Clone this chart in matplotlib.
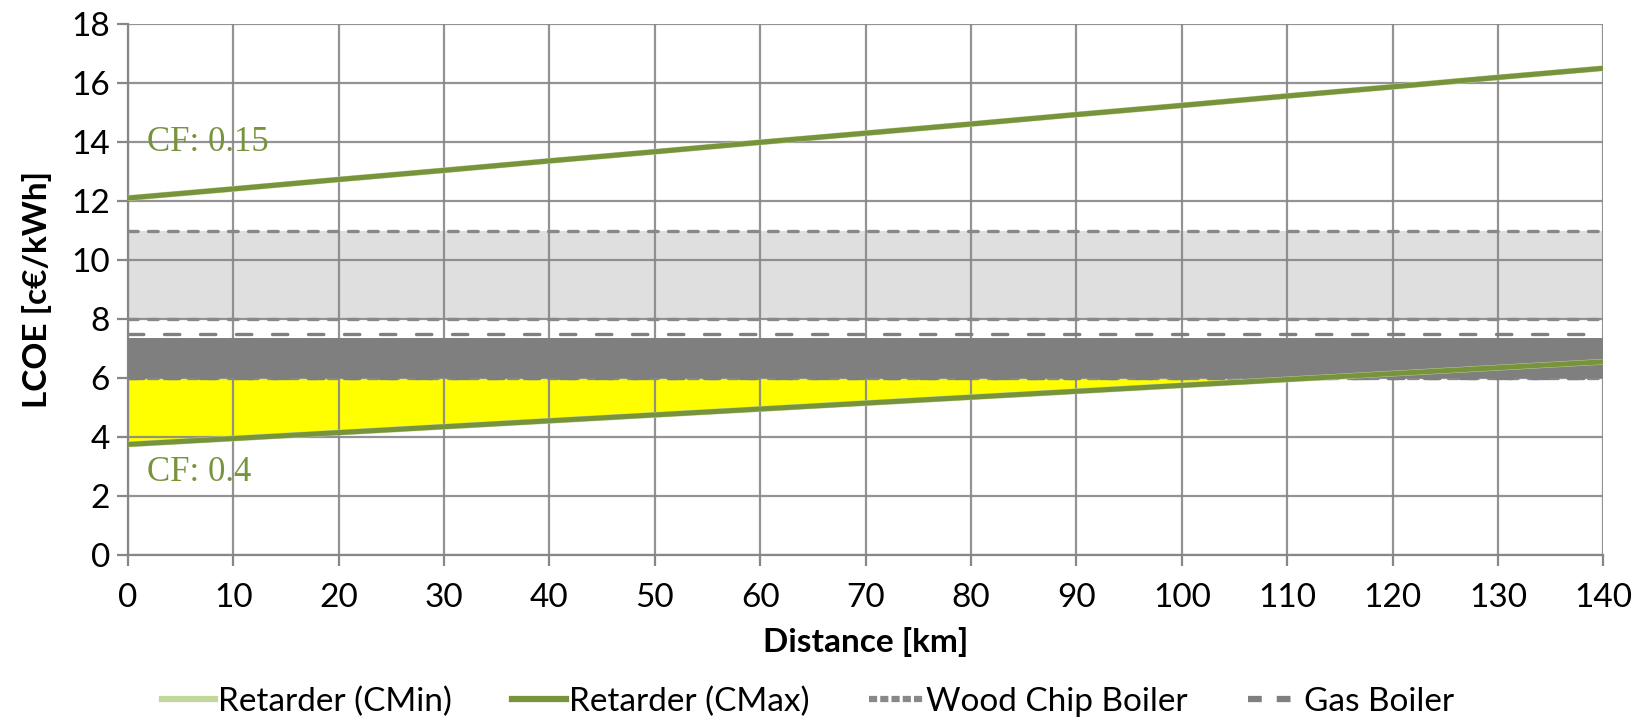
import matplotlib
matplotlib.use("Agg")
import matplotlib.pyplot as plt
from matplotlib.lines import Line2D

plt.rcParams['font.family'] = ['Lato', 'DejaVu Sans']

# Distance grid [km]
distance = [0, 10, 20, 30, 40, 50, 60, 70, 80, 90, 100, 110, 120, 130, 140]

# Retarder LCOE [c€/kWh] for two capacity factors
lcoe_cf015 = [12.10, 12.41, 12.73, 13.04, 13.36, 13.67, 13.99, 14.30,
              14.61, 14.93, 15.24, 15.56, 15.87, 16.19, 16.50]
lcoe_cf04 = [3.75, 3.95, 4.15, 4.35, 4.55, 4.75, 4.95, 5.15,
             5.35, 5.55, 5.75, 5.95, 6.15, 6.35, 6.55]

# Reference heat costs [c€/kWh]
wood_chip_range = [8.0, 11.0]
gas_range = [6.0, 7.5]
gas_band = [6.0, 7.37]

x_ticks = list(range(0, 141, 10))
y_ticks = list(range(0, 19, 2))

green_dark = '#77933C'
green_light = '#C3D69B'
grey_line = '#878787'

fig = plt.figure(figsize=(16.36, 7.21), dpi=100)
ax = fig.add_axes([0.0782, 0.2302, 0.9018, 0.7365])

x0, x1 = distance[0], distance[-1]

# Shaded cost bands (beneath the grid)
ax.fill_between([x0, x1], wood_chip_range[0], wood_chip_range[1],
                color='#DFDFDF', zorder=1, lw=0)
ax.fill_between(distance, lcoe_cf04, gas_range[0],
                where=[v < gas_range[0] for v in lcoe_cf04], interpolate=True,
                color='#FFFF00', zorder=1, lw=0)

# Reference boiler lines
for yv in wood_chip_range + [gas_range[0]]:
    ax.plot([x0, x1], [yv, yv], color='#888888', lw=2.4,
            dashes=(2.9, 3.1), dash_capstyle='round', zorder=2)
for yv in gas_range:
    ax.plot([x0, x1], [yv, yv], color='#7F7F7F', lw=2.4,
            dashes=(4.6, 6.2), dash_capstyle='round', zorder=2)

ax.fill_between([x0, x1], gas_band[0], gas_band[1],
                color='#7F7F7F', zorder=3, lw=0)

# Retarder curves
for series in (lcoe_cf015, lcoe_cf04):
    ax.plot(distance, series, color=green_light, lw=4.2, zorder=5)
    ax.plot(distance, series, color=green_dark, lw=3.6, zorder=6)

ax.text(1.8, 14.0, 'CF: 0.15', color=green_dark, fontsize=25,
        family='Liberation Serif', va='center', ha='left', zorder=7)
ax.text(1.8, 2.8, 'CF: 0.4', color=green_dark, fontsize=25,
        family='Liberation Serif', va='center', ha='left', zorder=7)

ax.set_xlim(x0, x1)
ax.set_ylim(0, 18)
ax.set_xticks(x_ticks)
ax.set_yticks(y_ticks)
ax.grid(True, color=grey_line, lw=1.6, zorder=4, alpha=0.9)
for side in ('top', 'right'):
    ax.spines[side].set_visible(False)
for side in ('left', 'bottom'):
    ax.spines[side].set_color(grey_line)
    ax.spines[side].set_linewidth(1.6)
ax.tick_params(axis='both', labelsize=24, color=grey_line, width=1.6,
               length=8, pad=5)
ax.tick_params(axis='x', pad=12)

ax.set_xlabel('Distance [km]', fontsize=24, fontweight='bold', labelpad=10)
ax.set_ylabel('LCOE [c€/kWh]', fontsize=24, fontweight='bold', labelpad=14)

handles = [
    Line2D([], [], color=green_light, lw=4.5),
    Line2D([], [], color=green_dark, lw=4.5),
    Line2D([], [], color='#888888', lw=4.5, dashes=(1.3, 0.5)),
    Line2D([], [], color='#7F7F7F', lw=4.5, dashes=(2.2, 2.4)),
]
labels = ['Retarder (CMin)', 'Retarder (CMax)', 'Wood Chip Boiler', 'Gas Boiler']
fig.legend(handles, labels, loc='center', bbox_to_anchor=(0.494, 0.027),
           ncol=4, frameon=False, fontsize=24, handlelength=1.6,
           handletextpad=0.1, columnspacing=1.8)

fig.savefig('out.png', dpi=100)
